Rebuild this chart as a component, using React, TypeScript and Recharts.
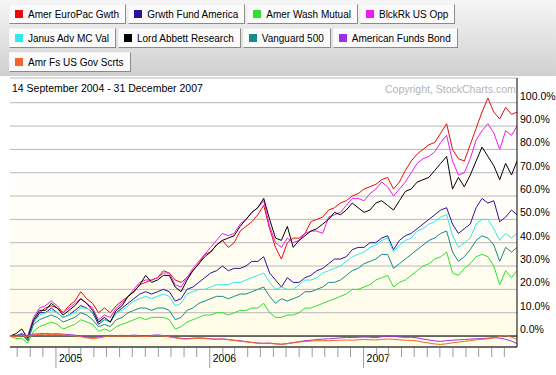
import React from 'react';
import { LineChart, Line, XAxis, YAxis, CartesianGrid, ReferenceLine } from 'recharts';

// Samples every two weeks from 14 Sep 2004, the last one is 31 Dec 2007 (day 1203)
const sampleDays = [...Array.from({ length: 86 }, (_, i) => i * 14), 1203];

const seriesNames = [
  'Amer EuroPac Gwth',
  'Grwth Fund America',
  'Amer Wash Mutual',
  'BlckRk US Opp',
  'Janus Adv MC Val',
  'Lord Abbett Research',
  'Vanguard 500',
  'American Funds Bond',
  'Amr Fs US Gov Scrts',
];

const seriesColors = ['#e80c0c', '#2a129e', '#2fe02f', '#ee1cee', '#2eeaea', '#000000', '#168a8c', '#9a33e6', '#f0662a'];

// % change since 14 Sep 2004
const amerEuroPac = [
  0, 0, 1, -1, 6, 10, 12, 13, 12, 10,
  13, 15, 19, 16, 14, 10, 12, 10, 13, 15,
  17, 19, 22, 23, 24, 25, 28, 27, 24, 23,
  25, 28, 31, 35, 36, 39, 41, 38, 40, 45,
  47, 49, 52, 56, 46, 38, 33, 40, 42, 42,
  44, 49, 50, 51, 54, 55, 57, 58, 60, 61,
  63, 64, 65, 67, 68, 63, 66, 71, 75, 78,
  80, 82, 83, 87, 91, 80, 76, 75, 82, 89,
  96, 102, 96, 93, 98, 95, 96,
];
const growthFund = [
  0, 0, 1, -2, 6, 10, 10, 12, 10, 8,
  9, 11, 13, 12, 10, 5, 7, 6, 10, 12,
  14, 16, 18, 19, 18, 19, 20, 19, 15, 16,
  20, 21, 23, 25, 27, 28, 30, 28, 29, 29,
  30, 32, 32, 34, 27, 24, 21, 25, 23, 23,
  25, 26, 28, 29, 31, 33, 33, 34, 37, 38,
  38, 40, 40, 42, 43, 37, 41, 43, 44, 46,
  48, 50, 52, 54, 55, 48, 44, 46, 48, 55,
  59, 57, 58, 49, 51, 54, 52,
];
const washMutual = [
  0, -1, -1, -3, 2, 4, 5, 6, 5, 3,
  4, 5, 7, 6, 5, 2, 3, 2, 4, 5,
  6, 7, 8, 7, 8, 8, 8, 7, 3, 4,
  6, 7, 8, 9, 9, 10, 10, 9, 10, 11,
  11, 12, 12, 14, 10, 8, 8, 9, 9, 10,
  12, 12, 13, 14, 15, 16, 17, 18, 20, 20,
  21, 22, 24, 25, 26, 21, 23, 24, 26, 28,
  30, 31, 33, 34, 36, 27, 26, 29, 31, 34,
  35, 34, 30, 22, 28, 25, 28,
];
const blackRock = [
  0, 0, 1, 0, 8, 12, 13, 15, 13, 10,
  12, 14, 16, 14, 12, 7, 9, 8, 12, 14,
  17, 20, 23, 24, 24, 25, 27, 27, 22, 21,
  25, 29, 32, 35, 38, 41, 44, 43, 44, 48,
  50, 53, 55, 58, 47, 40, 38, 42, 40, 41,
  44, 45, 45, 44, 51, 52, 53, 56, 59, 59,
  58, 61, 63, 66, 64, 60, 63, 66, 70, 74,
  76, 77, 79, 83, 86, 75, 69, 70, 76, 84,
  88, 91, 87, 80, 88, 86, 90,
];
const janus = [
  0, 0, 1, -1, 6, 9, 10, 11, 10, 8,
  9, 10, 12, 12, 10, 6, 7, 6, 10, 11,
  13, 15, 16, 17, 16, 17, 18, 17, 13, 14,
  18, 19, 20, 20, 21, 22, 22, 22, 23, 23,
  24, 25, 26, 27, 23, 20, 21, 20, 20, 22,
  24, 24, 25, 27, 28, 29, 30, 32, 34, 35,
  36, 38, 39, 41, 42, 36, 39, 41, 42, 45,
  46, 48, 49, 51, 52, 43, 38, 40, 42, 48,
  50, 50, 46, 41, 44, 42, 44,
];
const lordAbbett = [
  0, 1, 3, -1, 7, 11, 11, 14, 12, 9,
  11, 13, 16, 14, 11, 6, 8, 6, 11, 13,
  17, 19, 22, 26, 23, 24, 26, 26, 21, 19,
  24, 28, 31, 34, 36, 39, 41, 42, 43, 47,
  50, 53, 55, 59, 50, 42, 41, 47, 38, 41,
  43, 45, 46, 48, 50, 53, 52, 54, 57, 55,
  53, 54, 57, 58, 56, 54, 58, 62, 63, 66,
  67, 68, 71, 74, 77, 63, 68, 64, 69, 75,
  81, 77, 73, 67, 74, 69, 75,
];
const vanguard500 = [
  0, 0, 1, -2, 5, 7, 8, 9, 8, 6,
  7, 8, 10, 9, 7, 4, 5, 4, 7, 8,
  10, 11, 12, 12, 11, 12, 12, 11, 7, 8,
  11, 12, 14, 15, 16, 17, 17, 16, 17, 18,
  18, 19, 20, 21, 17, 14, 16, 15, 16, 17,
  19, 19, 20, 21, 23, 23, 24, 26, 28, 29,
  31, 32, 33, 35, 35, 29, 31, 33, 35, 37,
  39, 41, 42, 44, 45, 36, 32, 34, 37, 41,
  43, 42, 39, 32, 38, 36, 38,
];
const amerBond = [
  0, 0.3, 0.5, 0.2, 0.8, 1.0, 1.1, 0.9, 1.0, 0.8,
  0.6, 0.4, 0, -0.5, -0.6, -0.4, 0.1, 0.3, 0.2, 0.3,
  0.2, 0.4, 0.2, 0.1, 0.3, 0.5, 0.2, -0.2, -0.6, -1.0,
  -1.1, -0.9, -0.8, -0.9, -1.2, -1.3, -1.2, -1.5, -1.8, -2.0,
  -2.4, -2.7, -3.0, -3.1, -3.0, -3.3, -3.5, -3.2, -2.8, -2.4,
  -2.0, -1.8, -1.5, -1.3, -1.2, -1.0, -0.8, -0.6, -0.7, -0.5,
  -0.4, -0.5, -0.7, -0.3, 0, -0.1, -0.4, -0.6, -0.5, -0.8,
  -1.3, -1.7, -2.1, -2.3, -2.0, -1.8, -1.6, -1.5, -1.3, -1.2,
  -1.1, -0.9, -0.7, -0.9, -1.4, -2.2, -3.2,
];
const usGovSecurities = [
  0, -0.3, 0.2, -0.2, 0.5, 0.7, 0.8, 0.6, 0.7, 0.5,
  0.3, 0.1, -0.3, -0.8, -1.1, -0.9, -0.3, 0, -0.1, 0,
  -0.1, 0.1, -0.1, -0.2, 0, 0.2, 0, -0.4, -0.8, -1.2,
  -1.3, -1.1, -1.0, -1.1, -1.3, -1.4, -1.3, -1.6, -1.9, -2.2,
  -2.5, -2.8, -3.1, -3.2, -3.1, -3.4, -3.6, -3.3, -2.9, -2.6,
  -2.3, -2.2, -2.0, -2.0, -2.0, -1.9, -1.8, -1.7, -1.8, -1.6,
  -1.5, -1.6, -1.7, -1.4, -1.3, -1.4, -1.6, -1.8, -1.9, -2.1,
  -2.6, -3.0, -3.4, -3.6, -3.3, -2.9, -2.6, -2.3, -2.0, -1.6,
  -1.4, -1.2, -0.8, -0.2, 0.3, -0.5, -1.4,
];

const seriesValues = [amerEuroPac, growthFund, washMutual, blackRock, janus, lordAbbett, vanguard500, amerBond, usGovSecurities];

const percentTicks = [0, 10, 20, 30, 40, 50, 60, 70, 80, 90, 100];

// legend buttons, row by row
const legendRows = [[0, 1, 2, 3], [4, 5, 6, 7], [8]];

// month ticks as day offsets from 14 Sep 2004
const startUtc = Date.UTC(2004, 8, 14);
const monthStarts = Array.from({ length: 39 }, (_, k) => new Date(Date.UTC(2004, 9 + k, 1)));
const monthTicks = monthStarts.map((d) => Math.round((d.getTime() - startUtc) / 86400000));
const yearLabels = new Map<number, string>();
monthStarts.forEach((d, k) => {
  if (d.getUTCMonth() === 0) yearLabels.set(monthTicks[k], String(d.getUTCFullYear()));
});

const FONT = 'Arial, "Liberation Sans", sans-serif';

const renderMonthTick = (props: any) => {
  const { x, y, payload } = props;
  const label = yearLabels.get(payload.value);
  return (
    <g>
      <line x1={x} x2={x} y1={y + 1} y2={y + (label ? 21 : 10)} stroke="#9c9c9c" />
      {label && (
        <text x={x + 3} y={y + 15} fontSize={10.5} fill="#000" fontFamily={FONT}>
          {label}
        </text>
      )}
    </g>
  );
};

const renderPctTick = (props: any) => {
  const { x, y, payload } = props;
  return (
    <text x={x} y={y - 3} fontSize={10.5} fill="#000" textAnchor="start" fontFamily={FONT}>
      {`${payload.value.toFixed(1)}%`}
    </text>
  );
};

const App: React.FC = () => {
  const data = sampleDays.map((day, i) => {
    const row: Record<string, number> = { day };
    seriesValues.forEach((vals, k) => {
      row[`s${k}`] = vals[i];
    });
    return row;
  });

  return (
    <div style={{ position: 'absolute', left: 0, top: 0, width: 556, height: 375, background: '#fff', fontFamily: FONT, overflow: 'hidden' }}>
      <LineChart width={556} height={375} data={data} margin={{ top: 78, right: 0, bottom: 0, left: 10 }}>
        <defs>
          <linearGradient id="plotBg" x1="0" y1="0" x2="0" y2="1">
            <stop offset="0" stopColor="#ffffff" />
            <stop offset="0.3" stopColor="#ffffff" />
            <stop offset="1" stopColor="#fffce6" />
          </linearGradient>
        </defs>
        <CartesianGrid vertical={false} stroke="#b8b8b8" fill="url(#plotBg)" fillOpacity={1} />
        <XAxis
          dataKey="day"
          type="number"
          domain={[0, 1203]}
          ticks={monthTicks}
          interval={0}
          height={28}
          axisLine={{ stroke: '#000' }}
          tickLine={false}
          tickSize={0}
          tickMargin={0}
          tick={renderMonthTick}
          allowDataOverflow
        />
        <YAxis
          orientation="right"
          width={39}
          domain={[-4.7, 110.6]}
          ticks={percentTicks}
          interval={0}
          axisLine={{ stroke: '#000' }}
          tickLine={false}
          tickSize={0}
          tickMargin={3}
          tick={renderPctTick}
          allowDataOverflow
        />
        <ReferenceLine y={0} stroke="#000" />
        {seriesNames.map((name, k) => (
          <Line
            key={name}
            name={name}
            type="linear"
            dataKey={`s${k}`}
            stroke={seriesColors[k]}
            strokeWidth={1}
            dot={false}
            isAnimationActive={false}
          />
        ))}
      </LineChart>

      <div style={{ position: 'absolute', left: 0, top: 0, width: 556, height: 76, background: 'linear-gradient(#f6f6f6, #d0d0d0)' }}>
        {legendRows.map((row, r) => (
          <div key={r} style={{ position: 'absolute', left: 9, top: 4 + r * 24, display: 'flex', gap: 2 }}>
            {row.map((k) => (
              <div
                key={k}
                style={{
                  height: 18,
                  border: '1px solid',
                  borderColor: '#f4f4f4 #8a8a8a #8a8a8a #f4f4f4',
                  background: '#fbfbfb',
                  display: 'flex',
                  alignItems: 'center',
                  paddingLeft: 5,
                  paddingRight: 6,
                  fontSize: 10,
                  whiteSpace: 'nowrap',
                  color: '#000',
                }}
              >
                <span style={{ width: 8, height: 8, background: seriesColors[k], marginRight: 5, display: 'inline-block' }} />
                {seriesNames[k]}
              </div>
            ))}
          </div>
        ))}
      </div>

      <div style={{ position: 'absolute', left: 12, top: 82, fontSize: 10.5, lineHeight: '12px', color: '#000' }}>
        14 September 2004 - 31 December 2007
      </div>
      <div style={{ position: 'absolute', left: 385, top: 83, fontSize: 10.5, lineHeight: '12px', color: '#b4b4b4' }}>
        Copyright, StockCharts.com
      </div>
    </div>
  );
};

export default App;
